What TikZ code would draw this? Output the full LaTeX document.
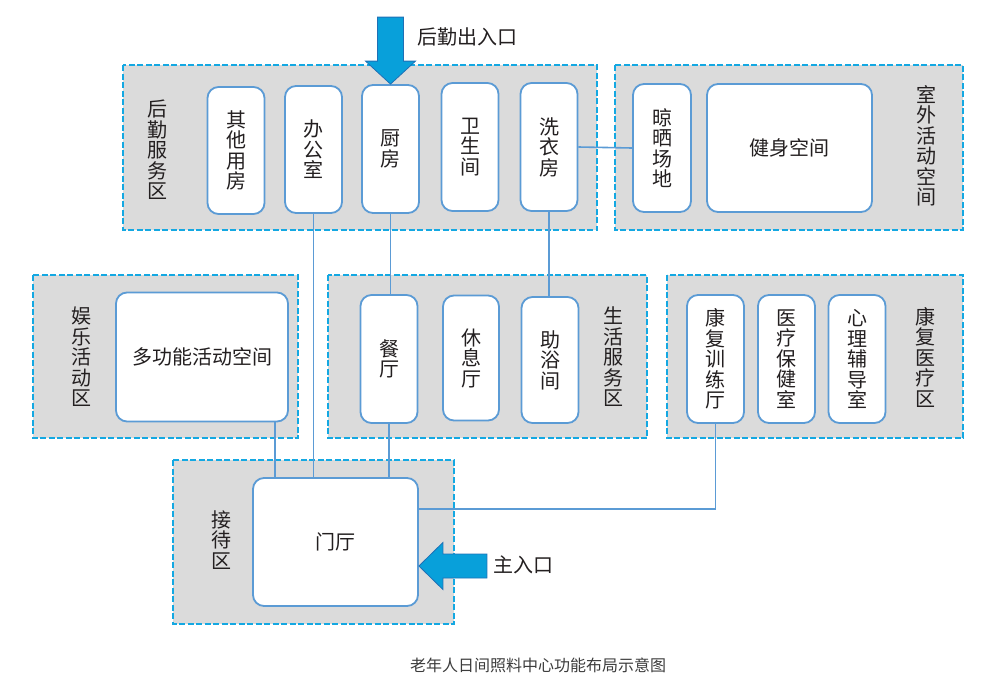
\documentclass[tikz,border=0pt]{standalone}
\usepackage{fontspec}
\setmainfont{Noto Sans CJK SC}
\usetikzlibrary{calc}
\definecolor{darktext}{HTML}{231F20}
\definecolor{capgray}{HTML}{3C3C3C}
\definecolor{zonegray}{HTML}{DBDBDB}
\definecolor{zonecyan}{HTML}{14A8E2}
\definecolor{roomblue}{HTML}{5B9BD5}
\definecolor{arrowfill}{HTML}{08A0DA}
\definecolor{arrowedge}{HTML}{1F70B6}
\newcommand\roomfont{\fontsize{20}{20.5}\selectfont}
\newcommand\capfont{\fontsize{16}{18}\selectfont}
\tikzset{
  zone/.style={draw=zonecyan, line width=2.5pt, dash pattern=on 6pt off 2.5pt, fill=zonegray},
  room/.style={draw=roomblue, line width=1.8pt, fill=white, rounded corners=11pt,
    align=center, inner sep=0pt, text=darktext, font=\roomfont},
  zonelabel/.style={align=center, inner sep=0pt, text=darktext, font=\roomfont},
  link/.style={draw=roomblue, line width=1.6pt},
  bigarrow/.style={fill=arrowfill, draw=arrowedge, line width=0.8pt, line join=miter}
}

\begin{document}
\begin{tikzpicture}[x=1pt,y=-1pt]
\useasboundingbox (0,0) rectangle (1000,699);

% zones
\draw[zone] (123,65) rectangle (597,230);
\draw[zone] (615,65) rectangle (963,230);
\draw[zone] (33,275) rectangle (298,438);
\draw[zone] (328,275) rectangle (647,438);
\draw[zone] (667,275) rectangle (963,438);
\draw[zone] (173,460) rectangle (454,624);

\node[zonelabel] (houqinlbl) at (157,150) {后\\勤\\服\\务\\区};
\node[zonelabel] (shiwailbl) at (926,146) {室\\外\\活\\动\\空\\间};
\node[zonelabel] (yulelbl) at (81,357) {娱\\乐\\活\\动\\区};
\node[zonelabel] (shenghuolbl) at (613,357) {生\\活\\服\\务\\区};
\node[zonelabel] (kangfulbl) at (925,357) {康\\复\\医\\疗\\区};
\node[zonelabel] (jiedailbl) at (221,540) {接\\待\\区};

% rooms
\node[room, minimum width=57pt, minimum height=127pt] (qita) at (236,150.5) {其\\他\\用\\房};
\node[room, minimum width=57pt, minimum height=127pt] (bangong) at (313.5,149.5) {办\\公\\室};
\node[room, minimum width=57pt, minimum height=128pt] (chufang) at (390.5,149) {厨\\房};
\node[room, minimum width=57pt, minimum height=128pt] (weisheng) at (470,147) {卫\\生\\间};
\node[room, minimum width=57pt, minimum height=128pt] (xiyi) at (549,147) {洗\\衣\\房};
\node[room, minimum width=58pt, minimum height=128pt] (liangshai) at (662,148) {晾\\晒\\场\\地};
\node[room, minimum width=165pt, minimum height=128pt] (jianshen) at (789.5,148) {健身空间};
\node[room, minimum width=172pt, minimum height=129pt] (duogong) at (202,357) {多功能活动空间};
\node[room, minimum width=57pt, minimum height=128pt] (canting) at (389,359) {餐\\厅};
\node[room, minimum width=56pt, minimum height=125pt] (xiuxi) at (471,358) {休\\息\\厅};
\node[room, minimum width=57pt, minimum height=126pt] (zhuyu) at (550,360) {助\\浴\\间};
\node[room, minimum width=57pt, minimum height=128pt] (kangfu) at (715.5,359) {康\\复\\训\\练\\厅};
\node[room, minimum width=57pt, minimum height=128pt] (yiliao) at (786.5,359) {医\\疗\\保\\健\\室};
\node[room, minimum width=57pt, minimum height=128pt] (xinli) at (857,359) {心\\理\\辅\\导\\室};
\node[room, minimum width=165pt, minimum height=128pt] (menting) at (335.5,542) {门厅};

% links
\draw[link] (bangong.south) -- (bangong.south |- menting.north);
\draw[link] (chufang.south) -- (chufang.south |- canting.north);
\draw[link] (canting.south) -- (canting.south |- menting.north);
\draw[link] (xiyi.south) -- (xiyi.south |- zhuyu.north);
\draw[link] (xiyi.east) -- (liangshai.west);
\draw[link] ([xshift=-14pt]duogong.south east) -- ([xshift=-14pt]duogong.south east |- menting.north);
\draw[link] (kangfu.south) |- ([yshift=33pt]menting.east);

% entrances
\draw[bigarrow] (chufang.north) -- ++(-25,-23) -- ++(12,0) -- ++(0,-44) -- ++(26,0)
  -- ++(0,44) -- ++(12,0) -- cycle;
\draw[bigarrow] ([yshift=-24pt]menting.east) -- ++(24,-23.5) -- ++(0,11.5) -- ++(44,0)
  -- ++(0,24) -- ++(-44,0) -- ++(0,11.5) -- cycle;
\node[anchor=west, inner sep=0pt, text=darktext, font=\roomfont] (backdoor) at (417,37) {后勤出入口};
\node[anchor=west, inner sep=0pt, text=darktext, font=\roomfont] (maindoor) at (493,565) {主入口};

\node[text=capgray, font=\capfont] (caption) at (538,665) {老年人日间照料中心功能布局示意图};
\end{tikzpicture}
\end{document}
